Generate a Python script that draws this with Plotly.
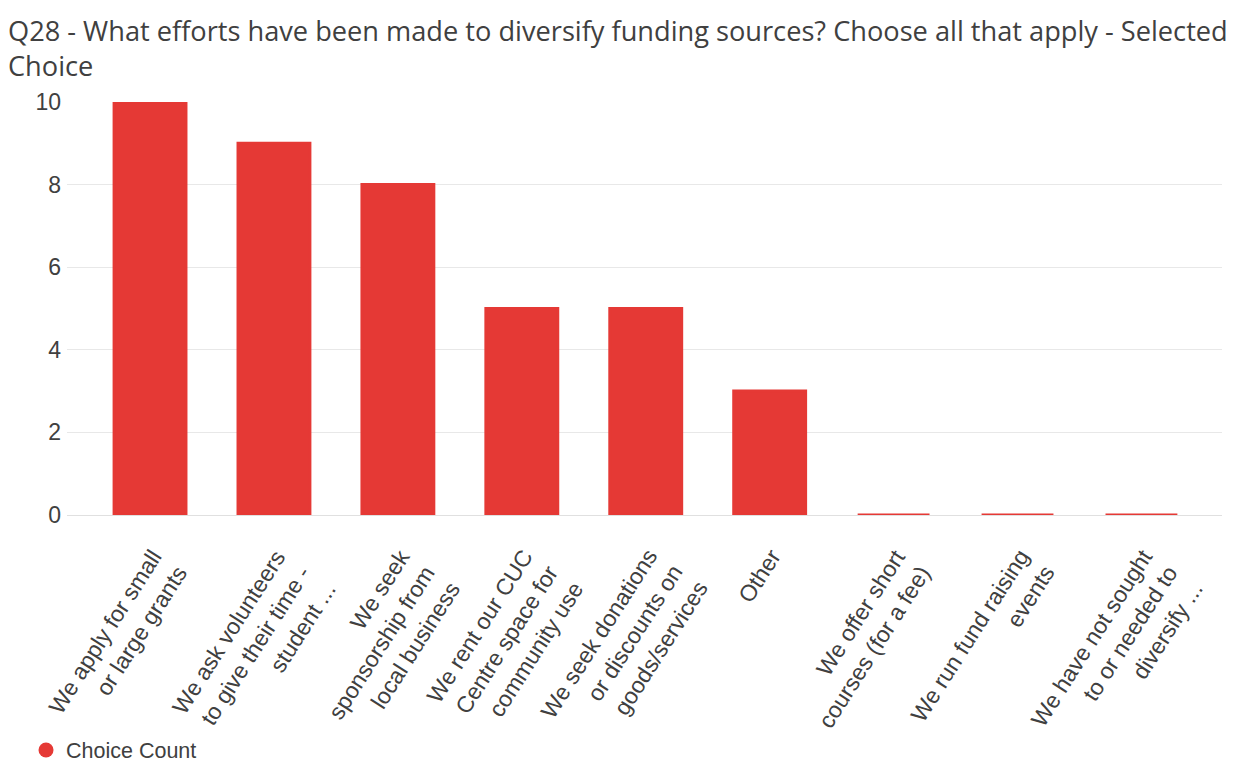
import plotly.graph_objects as go

categories = [
    "We apply for small<br>or large grants",
    "We ask volunteers<br>to give their time -<br>student ...",
    "We seek<br>sponsorship from<br>local business",
    "We rent our CUC<br>Centre space for<br>community use",
    "We seek donations<br>or discounts on<br>goods/services",
    "Other",
    "We offer short<br>courses (for a fee)",
    "We run fund raising<br>events",
    "We have not sought<br>to or needed to<br>diversify ...",
]
counts = [10, 9, 8, 5, 5, 3, 0, 0, 0]
y_ticks = [0, 2, 4, 6, 8, 10]
series_name = "Choice Count"
title_text = ("Q28 - What efforts have been made to diversify funding sources? "
              "Choose all that apply - Selected<br>Choice")

RED = "#E53935"
TXT = "#404040"
TITLE_FONT = "Open Sans"
FONT = "Liberation Sans, Arial, sans-serif"
LABEL_SIZE = 23
LINE_H = LABEL_SIZE * 1.3
ANGLE = 57.5

PLOT_L, PLOT_R, PLOT_T, PLOT_B = 67, 17, 102, 247
PLOT_W = 1239 - PLOT_L - PLOT_R
PLOT_H = 762 - PLOT_T - PLOT_B

idx = list(range(len(categories)))

fig = go.Figure()
fig.add_trace(go.Bar(
    x=idx, y=counts, width=0.58,
    marker=dict(color=RED, line=dict(color=RED, width=3)),
    showlegend=False, hoverinfo="y",
))
fig.add_trace(go.Scatter(
    x=[None], y=[None], mode="markers", name=series_name,
    marker=dict(color=RED, size=15, symbol="circle"),
))

annotations = []
for i, lab in enumerate(categories):
    n = lab.count("<br>") + 1
    annotations.append(dict(
        x=i, y=0, xref="x", yref="y", text=lab, showarrow=False,
        textangle=-ANGLE, align="right", xanchor="right", yanchor="top",
        xshift=n * LINE_H * 0.845 - 6, yshift=-27,
        font=dict(family=FONT, size=LABEL_SIZE, color=TXT),
    ))

# chart title, placed at the top-left of the page
annotations.append(dict(
    text=title_text, showarrow=False, align="left",
    xref="paper", yref="paper",
    x=-(PLOT_L - 6) / PLOT_W, xanchor="left",
    y=1 + (PLOT_T - 10) / PLOT_H, yanchor="top",
    font=dict(family=TITLE_FONT, size=27.2, color=TXT),
))

fig.update_layout(
    width=1239, height=762,
    margin=dict(l=PLOT_L, r=PLOT_R, t=PLOT_T, b=PLOT_B, autoexpand=False),
    paper_bgcolor="white", plot_bgcolor="white",
    xaxis=dict(range=[-0.67, 8.65], showticklabels=False, showgrid=False,
               zeroline=False, showline=False, fixedrange=True),
    yaxis=dict(range=[0, 10], tickvals=y_ticks, showgrid=True,
               gridcolor="#e8e8e8", gridwidth=1, zeroline=True,
               zerolinecolor="#e0e0e0", zerolinewidth=1,
               tickfont=dict(family=FONT, size=23, color=TXT),
               ticks="", ticklabelstandoff=5, fixedrange=True,
               automargin=False),
    legend=dict(orientation="h", x=0.021, xref="container", xanchor="left",
                y=12 / 762, yref="container", yanchor="middle",
                font=dict(family=FONT, size=21.5, color=TXT)),
    annotations=annotations,
    bargap=0.42,
)
fig.write_html("out.html")
